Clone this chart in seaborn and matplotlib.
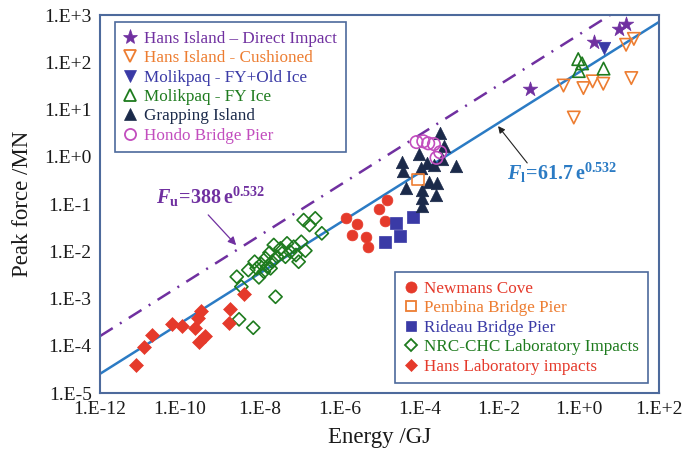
import numpy as np
import pandas as pd
import matplotlib
matplotlib.use("Agg")
import matplotlib.pyplot as plt
from matplotlib.lines import Line2D
from matplotlib.ticker import FixedLocator, FuncFormatter, NullLocator
import seaborn as sns

# ---------------- data: impact energy (GJ) and peak force (MN) ----------------
hans_direct_E = [0.060, 2.35, 10.0, 14.7]
hans_direct_F = [27.2, 272, 506, 636]

hans_cushion_E = [0.406, 1.28, 2.18, 4.02, 0.735, 20.3, 15.0, 23.5]
hans_cushion_F = [32.2, 28.5, 39.5, 35.2, 6.78, 46.4, 235, 313]

molik_old_E = [4.16]
molik_old_F = [197]

molik_fy_E = [0.95, 1.19, 0.98, 4.09]
molik_fy_F = [117, 95, 65.3, 73.8]

grappling_E = [3.35e-4, 4.21e-4, 9.5e-5, 3.76e-5, 3.86e-5, 1.56e-4, 1.08e-4, 2.38e-4,
               3.6e-4, 8.28e-4, 4.67e-5, 1.71e-4, 2.75e-4, 2.6e-4, 1.15e-4, 1.18e-4, 1.13e-4]
grappling_F = [3.13, 1.66, 1.17, 0.774, 0.499, 0.726, 0.578, 0.668,
               0.883, 0.637, 0.215, 0.296, 0.274, 0.155, 0.198, 0.132, 0.0897]

hondo_E = [8.47e-5, 1.25e-4, 1.66e-4, 2.31e-4, 3.31e-4, 2.68e-4]
hondo_F = [2.05, 2.13, 1.93, 1.86, 1.25, 0.95]

newmans_E = [1.57e-5, 9.77e-6, 1.42e-6, 2.66e-6, 1.36e-5, 2.0e-6, 4.72e-6, 5.2e-6]
newmans_F = [0.122, 0.078, 0.0513, 0.0372, 0.0444, 0.0221, 0.0203, 0.0123]

pembina_E = [9.1e-5]
pembina_F = [0.333]

rideau_E = [1.36e-5, 2.55e-5, 3.2e-5, 6.86e-5]
rideau_F = [0.0159, 0.0391, 0.021, 0.0538]

nrc_E = [1.26e-7, 1.77e-7, 2.46e-7, 3.59e-7, 2.66e-9, 3.47e-9, 3.04e-9, 6.89e-9,
         2.49e-8, 5.18e-9, 7.46e-9, 9.55e-9, 8.38e-9, 1.09e-8, 1.40e-8, 1.76e-8,
         2.25e-8, 1.54e-8, 2.05e-8, 2.72e-8, 3.31e-8, 3.63e-8, 4.83e-8, 5.87e-8,
         7.10e-8, 8.09e-8, 9.44e-8, 1.10e-7, 1.39e-7, 4.41e-8, 1.87e-8, 1.27e-8]
nrc_F = [0.0458, 0.036, 0.0498, 0.024, 2.89e-3, 1.78e-3, 3.63e-4, 2.41e-4,
         1.09e-3, 4.01e-3, 6.01e-3, 2.81e-3, 4.36e-3, 5.37e-3, 7.1e-3, 9.3e-3,
         0.0136, 4.71e-3, 6.01e-3, 7.67e-3, 0.0115, 9.06e-3, 0.0147, 9.77e-3,
         0.0125, 8.34e-3, 6.01e-3, 0.0159, 0.0103, 7.67e-3, 4.36e-3, 3.69e-3]

hans_lab_E = [8.2e-12, 1.3e-11, 2.05e-11, 6.4e-11, 1.13e-10, 2.44e-10, 2.95e-10,
              4.3e-10, 2.84e-10, 3.4e-10, 1.8e-9, 1.68e-9, 4.1e-9]
hans_lab_F = [3.9e-5, 9.5e-5, 1.66e-4, 2.9e-4, 2.6e-4, 2.4e-4, 1.22e-4,
              1.65e-4, 3.8e-4, 5.5e-4, 5.9e-4, 3.0e-4, 1.26e-3]

# power-law envelopes F = C * E^0.532
coef_upper = 388.0
coef_lower = 61.7
exponent = 0.532
line_E = [1e-12, 1e2]

x_ticks = [1e-12, 1e-10, 1e-8, 1e-6, 1e-4, 1e-2, 1e0, 1e2]
y_ticks = [1e-5, 1e-4, 1e-3, 1e-2, 1e-1, 1e0, 1e1, 1e2, 1e3]

# ---------------- style ----------------
sns.set_theme(style="white")
plt.rcParams["font.family"] = ["Liberation Serif", "DejaVu Serif"]
plt.rcParams["mathtext.fontset"] = "custom"
plt.rcParams["mathtext.rm"] = "Liberation Serif:bold"
plt.rcParams["mathtext.it"] = "Liberation Serif:bold:italic"
plt.rcParams["mathtext.bf"] = "Liberation Serif:bold"

PURPLE = "#7030A0"
ORANGE = "#ED7D31"
BLUE = "#3A3AA6"
GREEN = "#1E7B1E"
NAVY = "#1B2A4A"
MAGENTA = "#C24DBE"
RED = "#E53A2B"
LINE_BLUE = "#2B7BC4"
FRAME = "#4D6A9C"

fig = plt.figure(figsize=(6.85, 4.57), dpi=100)
ax = fig.add_axes([0.146, 0.140, 0.816, 0.827])
ax.set_xscale("log")
ax.set_yscale("log")

# fitted envelopes
lines = pd.DataFrame({"E": line_E})
lines["upper"] = coef_upper * lines["E"] ** exponent
lines["lower"] = coef_lower * lines["E"] ** exponent
sns.lineplot(data=lines, x="E", y="lower", ax=ax, color=LINE_BLUE, lw=1.8, zorder=2)
sns.lineplot(data=lines, x="E", y="upper", ax=ax, color=PURPLE, lw=1.8,
             linestyle=(0, (6, 3.4, 0.8, 3.4)), zorder=2)

def filled(E, F, marker, color, s):
    sns.scatterplot(x=E, y=F, ax=ax, marker=marker, color=color, s=s,
                    edgecolor=color, linewidth=0.5, zorder=3)

def hollow(E, F, marker, color, s):
    sns.scatterplot(x=E, y=F, ax=ax, marker=marker, s=s, facecolor="none",
                    edgecolor=color, linewidth=1.2, zorder=3)

hollow(nrc_E, nrc_F, "D", GREEN, 45)
filled(hans_lab_E, hans_lab_F, "D", RED, 50)
filled(newmans_E, newmans_F, "o", RED, 60)
filled(rideau_E, rideau_F, "s", BLUE, 70)
filled(grappling_E, grappling_F, "^", NAVY, 80)
hollow(pembina_E, pembina_F, "s", ORANGE, 70)
hollow(hondo_E, hondo_F, "o", MAGENTA, 80)
filled(hans_direct_E, hans_direct_F, "*", PURPLE, 120)
hollow(hans_cushion_E, hans_cushion_F, "v", ORANGE, 80)
filled(molik_old_E, molik_old_F, "v", BLUE, 80)
hollow(molik_fy_E, molik_fy_F, "^", GREEN, 80)

# axes
ax.set_xlim(1e-12, 1e2)
ax.set_ylim(1e-5, 1e3)
ax.xaxis.set_major_locator(FixedLocator(x_ticks))
ax.yaxis.set_major_locator(FixedLocator(y_ticks))
ax.xaxis.set_minor_locator(NullLocator())
ax.yaxis.set_minor_locator(NullLocator())
fmt = FuncFormatter(lambda v, p: f"1.E{int(round(np.log10(v))):+d}")
ax.xaxis.set_major_formatter(fmt)
ax.yaxis.set_major_formatter(fmt)
ax.tick_params(axis="both", direction="in", length=5, width=1.2, color=FRAME,
               labelsize=14, labelcolor="#1a1a1a", pad=6)
for sp in ax.spines.values():
    sp.set_color(FRAME)
    sp.set_linewidth(1.5)
ax.set_xlabel("Energy /GJ", fontsize=16.5, color="#1a1a1a", labelpad=6)
ax.set_ylabel("Peak force /MN", fontsize=16.5, color="#1a1a1a", labelpad=8)

# equation labels
ax.text(10 ** -10.61, 10 ** -0.85,
        r"$F_{\mathrm{u}}\!\mathrm{=}\!\mathrm{388\,e}^{\mathrm{0.532}}$",
        color=PURPLE, fontsize=14.5, ha="left", va="center")
ax.annotate("", xy=(10 ** -8.59, 10 ** -1.87), xytext=(10 ** -9.29, 10 ** -1.23),
            arrowprops=dict(arrowstyle="-|>", color=PURPLE, lw=0.9,
                            mutation_scale=12, shrinkA=0, shrinkB=0))
ax.text(10 ** -1.80, 10 ** -0.34,
        r"$F_{\mathrm{l}}\!\mathrm{=}\!\mathrm{61.7\,e}^{\mathrm{0.532}}$",
        color=LINE_BLUE, fontsize=14.5, ha="left", va="center")
ax.annotate("", xy=(10 ** -2.03, 10 ** 0.65), xytext=(10 ** -1.30, 10 ** -0.13),
            arrowprops=dict(arrowstyle="-|>", color="#222222", lw=0.8,
                            mutation_scale=10, shrinkA=0, shrinkB=0))

# legends
def h(marker, color, open_=False, ms=8):
    return Line2D([], [], linestyle="none", marker=marker, markersize=ms,
                  markerfacecolor="none" if open_ else color,
                  markeredgecolor=color, markeredgewidth=1.3 if open_ else 0.5)

top_handles = [h("*", PURPLE, ms=11), h("v", ORANGE, True), h("v", BLUE),
               h("^", GREEN, True), h("^", NAVY), h("o", MAGENTA, True)]
top_labels = ["Hans Island \u2013 Direct Impact", "Hans Island - Cushioned",
              "Molikpaq - FY+Old Ice", "Molikpaq - FY Ice", "Grapping Island",
              "Hondo Bridge Pier"]
top_colors = [PURPLE, ORANGE, BLUE, GREEN, NAVY, MAGENTA]

bot_handles = [h("o", RED), h("s", ORANGE, True, ms=7.5), h("s", BLUE, ms=7.5),
               h("D", GREEN, True, ms=6.5), h("D", RED, ms=6.5)]
bot_labels = ["Newmans Cove", "Pembina Bridge Pier", "Rideau Bridge Pier",
              "NRC-CHC Laboratory Impacts", "Hans Laboratory impacts"]
bot_colors = [RED, ORANGE, BLUE, GREEN, RED]

common = dict(fontsize=12.3, frameon=True, fancybox=False, framealpha=1,
              edgecolor=FRAME, handlelength=0.8, handletextpad=0.4,
              labelspacing=0.2, borderpad=0.5, borderaxespad=0)
leg1 = ax.legend(top_handles, top_labels, loc="upper left",
                 bbox_to_anchor=(0.027, 0.981), labelcolor=top_colors, **common)
leg1.get_frame().set_linewidth(1.2)
ax.add_artist(leg1)
leg2 = ax.legend(bot_handles, bot_labels, loc="lower right",
                 bbox_to_anchor=(0.980, 0.026), labelcolor=bot_colors, **common)
leg2.get_frame().set_linewidth(1.2)

fig.savefig("out.png", dpi=100)
